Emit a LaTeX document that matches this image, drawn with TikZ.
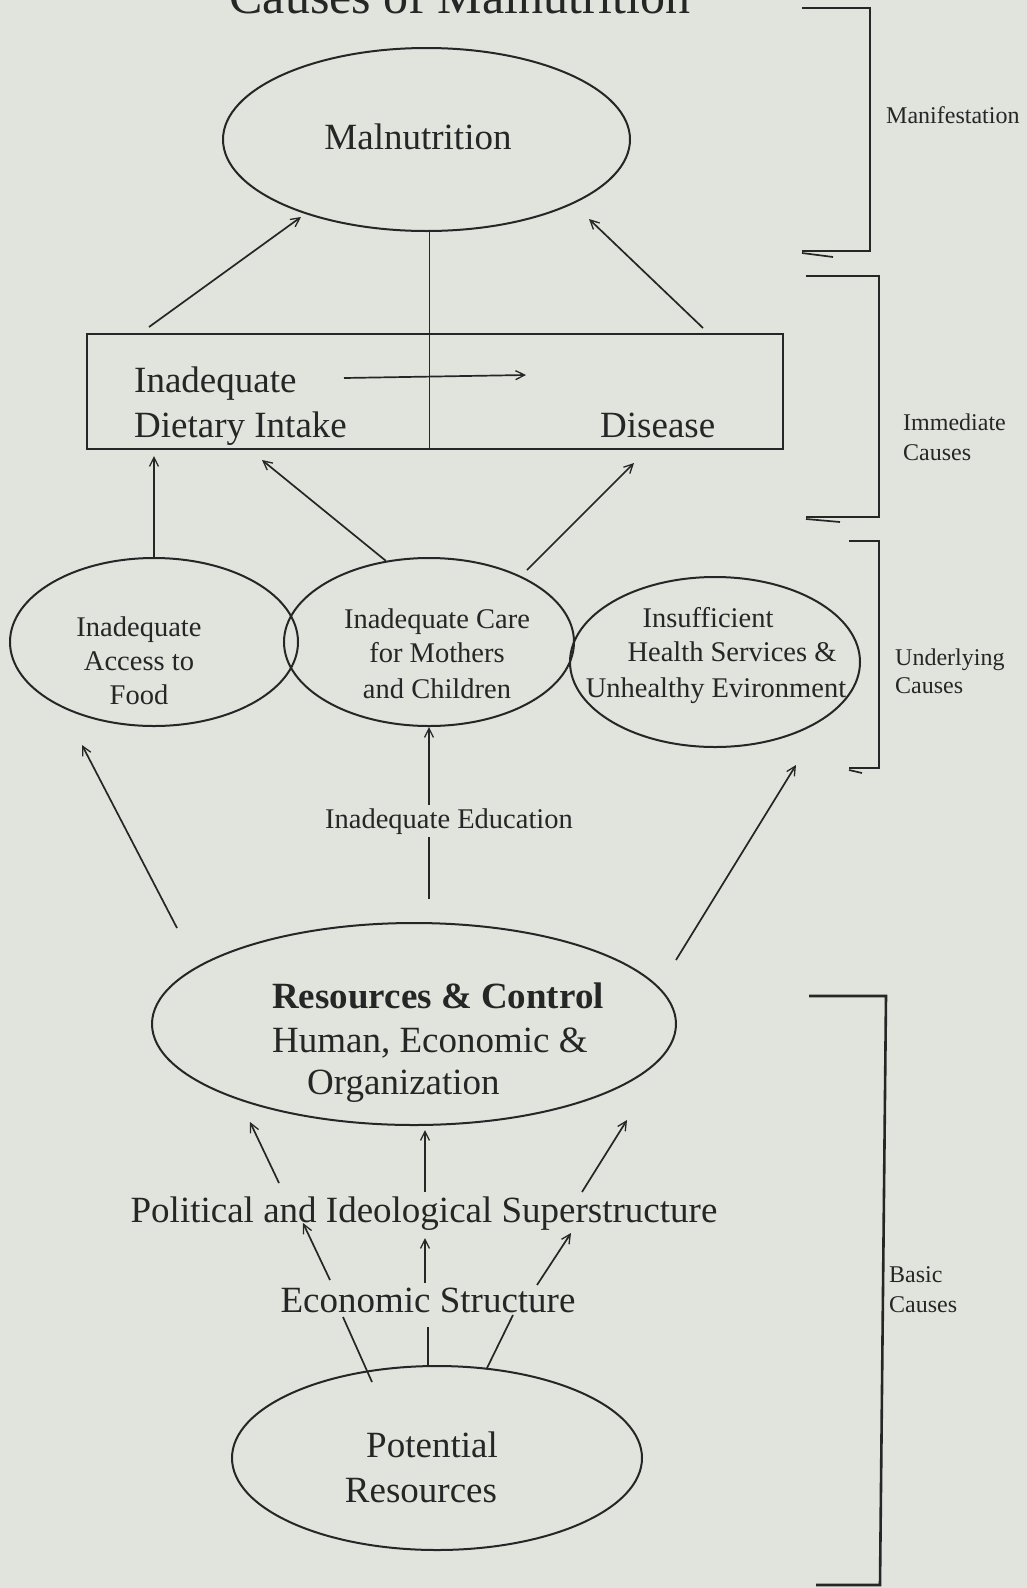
\documentclass[tikz,border=0pt]{standalone}
\usepackage{fontspec}
\setmainfont{Liberation Serif}
\usetikzlibrary{arrows.meta,shapes.geometric}
\definecolor{paper}{RGB}{224,228,221}
\definecolor{ink}{RGB}{38,38,38}
\begin{document}
\begin{tikzpicture}[x=1pt,y=-1pt,
  oval/.style={draw=ink,ellipse,line width=2pt,inner sep=0pt},
  boxst/.style={draw=ink,rectangle,line width=2.2pt,inner sep=0pt},
  arr/.style={draw=ink,line width=1.7pt,-{Straight Barb[length=9pt,width=9pt,line width=1.3pt]}},
  ln/.style={draw=ink,line width=1.7pt},
  brk/.style={draw=ink,line width=2.6pt,line join=miter},
  big/.style={text=ink,inner sep=0pt,font=\fontsize{37}{44}\selectfont},
  mid/.style={text=ink,inner sep=0pt,font=\fontsize{28.5}{34}\selectfont},
  small/.style={text=ink,inner sep=0pt,font=\fontsize{24}{30}\selectfont},
]
\clip (0,0) rectangle (1027,1588);
\fill[paper] (0,0) rectangle (1027,1588);

% title
\node[text=ink,inner sep=0pt,anchor=base,font=\fontsize{50}{60}\selectfont] (title) at (460,13) {Causes of Malnutrition};

% manifestation
\node[oval,minimum width=407pt,minimum height=183pt] (mal) at (426.5,139.5) {};
\node[big,anchor=base] (malT) at (418,149) {Malnutrition};

% immediate causes box
\node[boxst,minimum width=696pt,minimum height=115pt] (box) at (435,391.5) {};
\node[big,anchor=base west] (diet1) at (134,392) {Inadequate};
\node[big,anchor=base west] (diet2) at (134,437) {Dietary Intake};
\node[big,anchor=base west] (dis) at (600,437) {Disease};

% underlying causes
\node[oval,minimum width=288pt,minimum height=168pt] (access) at (154,642) {};
\node[mid,anchor=base] (acc1) at (139,636) {Inadequate};
\node[mid,anchor=base] (acc2) at (139,670) {Access to};
\node[mid,anchor=base] (acc3) at (139,704) {Food};

\node[oval,minimum width=290pt,minimum height=168pt] (care) at (429,642) {};
\node[mid,anchor=base] (care1) at (437,628) {Inadequate Care};
\node[mid,anchor=base] (care2) at (437,662) {for Mothers};
\node[mid,anchor=base] (care3) at (437,698) {and Children};

\node[oval,minimum width=290pt,minimum height=170pt] (health) at (715,662) {};
\node[mid,anchor=base] (hl1) at (708,627) {Insufficient};
\node[mid,anchor=base] (hl2) at (732,661) {Health Services \&};
\node[mid,anchor=base] (hl3) at (716,697) {Unhealthy Evironment};

\node[mid,anchor=base,inner sep=3pt] (edu) at (449,828) {Inadequate Education};

% basic causes
\node[oval,minimum width=524pt,minimum height=202pt] (res) at (414,1024) {};
\node[big,anchor=base west,font=\fontsize{37}{44}\selectfont\bfseries] (res1) at (272,1008) {Resources \& Control};
\node[big,anchor=base west] (res2) at (272,1052) {Human, Economic \&};
\node[big,anchor=base west] (res3) at (307,1094) {Organization};

\node[big,anchor=base] (pol) at (424,1222) {Political and Ideological Superstructure};
\node[big,anchor=base] (eco) at (428,1312) {Economic Structure};

\node[oval,minimum width=410pt,minimum height=184pt] (pot) at (437,1458) {};
\node[big,anchor=base] (pot1) at (432,1457) {Potential};
\node[big,anchor=base] (pot2) at (421,1502) {Resources};

% free ends of connectors
\coordinate (a1t) at (149,327);  \coordinate (a1h) at (301,217);
\coordinate (a3t) at (703,328);  \coordinate (a3h) at (589,219);
\coordinate (dt) at (344,378);   \coordinate (dh) at (526,375);
\coordinate (b2h) at (262,460);
\coordinate (b3t) at (527,570);  \coordinate (b3h) at (634,463);
\coordinate (c1t) at (177,928);  \coordinate (c1h) at (82,745);
\coordinate (c2t) at (676,960);  \coordinate (c2h) at (796,765);
\coordinate (d1t) at (279,1183); \coordinate (d1h) at (250,1122);
\coordinate (d2t) at (425,1192); \coordinate (d2h) at (425,1130);
\coordinate (d3t) at (582,1192); \coordinate (d3h) at (627,1120);
\coordinate (e1t) at (330,1280); \coordinate (e1h) at (303,1223);
\coordinate (e2t) at (425,1283); \coordinate (e2h) at (425,1238);
\coordinate (e3t) at (537,1285); \coordinate (e3h) at (571,1233);
\coordinate (f1t) at (343,1317); \coordinate (f1h) at (372,1382);
\coordinate (f2t) at (428,1327); \coordinate (f2h) at (428,1365);
\coordinate (f3t) at (513,1315); \coordinate (f3h) at (487,1368);

% connectors: immediate -> manifestation
\draw[arr] (a1t) -- (a1h);
\draw[ln] ([xshift=3pt]mal.south) -- ([xshift=3pt]mal.south |- box.south);
\draw[arr] (a3t) -- (a3h);
\draw[arr] (dt) -- (dh);

% underlying -> immediate
\draw[arr] (access.north) -- ++(0,-101);
\draw[arr] (care.118) -- (b2h);
\draw[arr] (b3t) -- (b3h);

% education
\draw[arr] (care.south |- edu.north) -- (care.south);
\draw[ln] (care.south |- edu.south) -- ([yshift=23pt]care.south |- res.north);

% resources -> underlying
\draw[arr] (c1t) -- (c1h);
\draw[arr] (c2t) -- (c2h);

% political -> resources
\draw[arr] (d1t) -- (d1h);
\draw[arr] (d2t) -- (d2h);
\draw[arr] (d3t) -- (d3h);

% economic -> political
\draw[arr] (e1t) -- (e1h);
\draw[arr] (e2t) -- (e2h);
\draw[arr] (e3t) -- (e3h);

% potential -- economic
\draw[ln] (f1t) -- (f1h);
\draw[ln] (f2t) -- (f2h);
\draw[ln] (f3t) -- (f3h);

% brackets
\draw[brk] (802,8) -- (870,8) -- (870,251) -- (802,251);
\draw[ln] (802,253) -- (833,257);
\draw[brk] (806,276) -- (879,276) -- (879,517) -- (806,517);
\draw[ln] (806,519) -- (840,522);
\draw[brk] (849,541) -- (879,541) -- (879,768) -- (849,768);
\draw[ln] (849,770) -- (862,773);
\draw[brk] (809,996) -- (886,996) -- (880,1585) -- (816,1585);

% bracket labels
\node[small,anchor=base west] (lman) at (886,123) {Manifestation};
\node[small,anchor=base west] (limm1) at (903,430) {Immediate};
\node[small,anchor=base west] (limm2) at (903,460) {Causes};
\node[small,anchor=base west] (lund1) at (895,665) {Underlying};
\node[small,anchor=base west] (lund2) at (895,693) {Causes};
\node[small,anchor=base west] (lbas1) at (889,1282) {Basic};
\node[small,anchor=base west] (lbas2) at (889,1312) {Causes};
\end{tikzpicture}
\end{document}
